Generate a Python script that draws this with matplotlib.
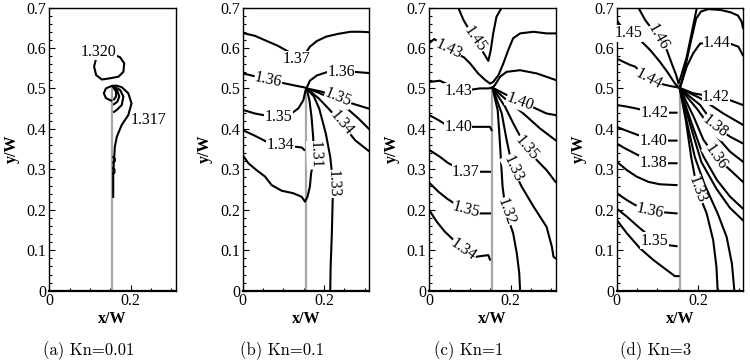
import matplotlib
matplotlib.use("Agg")
import matplotlib.pyplot as plt
from matplotlib.ticker import FixedLocator

# ---------------- data (x/W, y/W) ----------------
plate_x = 0.155
plate_top = 0.5

captions = ["(a) Kn=0.01", "(b) Kn=0.1", "(c) Kn=1", "(d) Kn=3"]

yticks = [0, 0.1, 0.2, 0.3, 0.4, 0.5, 0.6, 0.7]
ytick_labels = ["0", "0.1", "0.2", "0.3", "0.4", "0.5", "0.6", "0.7"]
xticks = [0, 0.2]
xtick_labels = ["0", "0.2"]

# Kn = 0.01
lines_a = [
    [(0.116, 0.578), (0.110, 0.554), (0.115, 0.533), (0.129, 0.522), (0.149, 0.525),
     (0.170, 0.529), (0.182, 0.541), (0.184, 0.562), (0.174, 0.577), (0.161, 0.582),
     (0.140, 0.585), (0.116, 0.578)],
    [(0.152, 0.470), (0.139, 0.476), (0.134, 0.488), (0.139, 0.500), (0.153, 0.506),
     (0.165, 0.507), (0.178, 0.503), (0.194, 0.488), (0.202, 0.463), (0.194, 0.434),
     (0.178, 0.410), (0.166, 0.381), (0.161, 0.356), (0.159, 0.323), (0.157, 0.290),
     (0.157, 0.257), (0.157, 0.232)],
    [(0.157, 0.506), (0.174, 0.496), (0.182, 0.480), (0.178, 0.459), (0.166, 0.447), (0.159, 0.442)],
    [(0.157, 0.505), (0.167, 0.494), (0.172, 0.480), (0.167, 0.467), (0.159, 0.461)],
    [(0.157, 0.503), (0.164, 0.492), (0.164, 0.480), (0.159, 0.473)],
    [(0.157, 0.330), (0.161, 0.327), (0.161, 0.320), (0.157, 0.317)],
    [(0.157, 0.303), (0.160, 0.300), (0.160, 0.292), (0.157, 0.289)],
]
labels_a = [("1.320", 0.122, 0.590, 0), ("1.317", 0.243, 0.422, 0)]

# Kn = 0.1
lines_b = [
    [(0.0, 0.637), (0.030, 0.630), (0.055, 0.619), (0.085, 0.606), (0.112, 0.591),
     (0.125, 0.580), (0.135, 0.572), (0.146, 0.574), (0.153, 0.585), (0.165, 0.603),
     (0.182, 0.617), (0.205, 0.628), (0.235, 0.635), (0.265, 0.640), (0.290, 0.640), (0.31, 0.639)],
    [(0.0, 0.537), (0.018, 0.533), (0.040, 0.527), (0.063, 0.521), (0.096, 0.514),
     (0.124, 0.508), (0.149, 0.503), (0.157, 0.501), (0.165, 0.519), (0.182, 0.532),
     (0.206, 0.540), (0.242, 0.541), (0.273, 0.541), (0.31, 0.538)],
    [(0.0, 0.447), (0.030, 0.438), (0.051, 0.434), (0.088, 0.430), (0.120, 0.438),
     (0.137, 0.451), (0.149, 0.471), (0.154, 0.494), (0.157, 0.501)],
    [(0.0, 0.397), (0.034, 0.381), (0.059, 0.368), (0.093, 0.360), (0.128, 0.356),
     (0.145, 0.354), (0.151, 0.348)],
    [(0.0, 0.335), (0.014, 0.315), (0.034, 0.298), (0.055, 0.282), (0.071, 0.261),
     (0.096, 0.247), (0.124, 0.241), (0.145, 0.232), (0.153, 0.220), (0.159, 0.232),
     (0.165, 0.257), (0.168, 0.290), (0.171, 0.306), (0.175, 0.335), (0.173, 0.381),
     (0.169, 0.430), (0.164, 0.470), (0.159, 0.492), (0.157, 0.500)],
    [(0.157, 0.500), (0.175, 0.480), (0.188, 0.450), (0.204, 0.389), (0.215, 0.331),
     (0.222, 0.264), (0.221, 0.224), (0.219, 0.142), (0.216, 0.059), (0.215, 0.0)],
    [(0.157, 0.500), (0.194, 0.492), (0.235, 0.478), (0.268, 0.463), (0.31, 0.450)],
    [(0.157, 0.500), (0.185, 0.490), (0.210, 0.479), (0.251, 0.455), (0.284, 0.426), (0.31, 0.400)],
    [(0.157, 0.500), (0.186, 0.476), (0.210, 0.451), (0.243, 0.414), (0.276, 0.372), (0.31, 0.345)],
]
labels_b = [("1.37", 0.133, 0.572, 0), ("1.36", 0.063, 0.521, -12), ("1.36", 0.242, 0.541, 0),
            ("1.35", 0.088, 0.430, 0), ("1.34", 0.093, 0.360, 0), ("1.31", 0.177, 0.335, -88),
            ("1.33", 0.222, 0.264, -88), ("1.35", 0.235, 0.478, -22), ("1.34", 0.243, 0.414, -50)]

# Kn = 1
lines_c = [
    [(0.071, 0.70), (0.084, 0.669), (0.112, 0.621), (0.129, 0.595), (0.139, 0.578),
     (0.145, 0.568), (0.151, 0.595), (0.157, 0.636), (0.165, 0.677), (0.178, 0.70)],
    [(0.0, 0.612), (0.012, 0.622), (0.025, 0.614), (0.047, 0.598), (0.068, 0.585),
     (0.085, 0.577), (0.100, 0.562), (0.120, 0.537), (0.137, 0.521), (0.149, 0.512),
     (0.157, 0.516), (0.170, 0.533), (0.182, 0.562), (0.194, 0.595), (0.206, 0.624),
     (0.223, 0.636), (0.256, 0.640), (0.288, 0.636), (0.31, 0.636)],
    [(0.0, 0.516), (0.026, 0.519), (0.045, 0.510), (0.071, 0.496), (0.104, 0.497),
     (0.124, 0.500), (0.145, 0.500), (0.155, 0.502), (0.161, 0.508), (0.174, 0.529),
     (0.190, 0.541), (0.223, 0.545), (0.264, 0.537), (0.31, 0.521)],
    [(0.155, 0.502), (0.182, 0.488), (0.223, 0.467), (0.260, 0.451), (0.288, 0.438), (0.31, 0.434)],
    [(0.0, 0.434), (0.022, 0.422), (0.038, 0.412), (0.071, 0.405), (0.100, 0.405),
     (0.133, 0.405), (0.149, 0.405), (0.153, 0.397)],
    [(0.155, 0.502), (0.190, 0.471), (0.231, 0.438), (0.272, 0.401), (0.31, 0.372)],
    [(0.155, 0.502), (0.186, 0.455), (0.206, 0.414), (0.239, 0.352), (0.264, 0.323),
     (0.288, 0.298), (0.31, 0.269)],
    [(0.155, 0.502), (0.178, 0.438), (0.190, 0.372), (0.205, 0.302), (0.227, 0.257),
     (0.256, 0.208), (0.288, 0.158), (0.301, 0.109), (0.305, 0.084), (0.31, 0.080)],
    [(0.155, 0.502), (0.168, 0.446), (0.172, 0.389), (0.176, 0.323), (0.180, 0.257),
     (0.188, 0.195), (0.206, 0.142), (0.215, 0.092), (0.221, 0.043), (0.223, 0.0)],
    [(0.0, 0.348), (0.026, 0.331), (0.047, 0.315), (0.090, 0.294), (0.124, 0.294), (0.149, 0.294)],
    [(0.0, 0.267), (0.022, 0.245), (0.043, 0.228), (0.070, 0.210), (0.090, 0.199),
     (0.124, 0.191), (0.149, 0.191)],
    [(0.0, 0.199), (0.018, 0.171), (0.038, 0.146), (0.060, 0.125), (0.084, 0.102),
     (0.116, 0.084), (0.145, 0.088), (0.149, 0.077)],
]
labels_c = [("1.45", 0.112, 0.621, -55), ("1.43", 0.047, 0.598, -25), ("1.43", 0.071, 0.494, 0),
            ("1.40", 0.223, 0.467, -20), ("1.40", 0.071, 0.405, 0), ("1.35", 0.239, 0.352, -50),
            ("1.33", 0.205, 0.302, -65), ("1.32", 0.188, 0.195, -70), ("1.37", 0.090, 0.294, 0),
            ("1.35", 0.090, 0.199, -15), ("1.34", 0.084, 0.102, -35)]

# Kn = 3
lines_d = [
    [(0.053, 0.70), (0.070, 0.669), (0.102, 0.626), (0.123, 0.595), (0.135, 0.562),
     (0.146, 0.533), (0.152, 0.512), (0.160, 0.537), (0.172, 0.578), (0.184, 0.636), (0.197, 0.70)],
    [(0.0, 0.669), (0.008, 0.657), (0.029, 0.636), (0.053, 0.624), (0.082, 0.595),
     (0.106, 0.566), (0.127, 0.537), (0.143, 0.512), (0.153, 0.502), (0.160, 0.516),
     (0.172, 0.554), (0.188, 0.587), (0.205, 0.611), (0.246, 0.612), (0.278, 0.611),
     (0.299, 0.603), (0.31, 0.582)],
    [(0.157, 0.505), (0.170, 0.560), (0.183, 0.620), (0.195, 0.672), (0.207, 0.690),
     (0.225, 0.696), (0.255, 0.694), (0.280, 0.688), (0.298, 0.680), (0.307, 0.665), (0.31, 0.650)],
    [(0.0, 0.574), (0.016, 0.566), (0.033, 0.558), (0.045, 0.554), (0.078, 0.524),
     (0.106, 0.512), (0.131, 0.506), (0.153, 0.502)],
    [(0.153, 0.502), (0.188, 0.488), (0.244, 0.478), (0.278, 0.471), (0.31, 0.459)],
    [(0.0, 0.459), (0.025, 0.455), (0.045, 0.451), (0.093, 0.440), (0.123, 0.440), (0.147, 0.440)],
    [(0.0, 0.405), (0.020, 0.397), (0.041, 0.389), (0.090, 0.371), (0.123, 0.371), (0.147, 0.371)],
    [(0.0, 0.364), (0.020, 0.352), (0.045, 0.339), (0.090, 0.316), (0.123, 0.315), (0.147, 0.315)],
    [(0.0, 0.319), (0.025, 0.298), (0.049, 0.282), (0.078, 0.269), (0.106, 0.263), (0.147, 0.261)],
    [(0.0, 0.241), (0.025, 0.224), (0.045, 0.212), (0.082, 0.198), (0.123, 0.193), (0.147, 0.191)],
    [(0.0, 0.203), (0.025, 0.183), (0.053, 0.158), (0.093, 0.124), (0.123, 0.113), (0.147, 0.110)],
    [(0.0, 0.175), (0.025, 0.142), (0.057, 0.105), (0.090, 0.076), (0.123, 0.051),
     (0.143, 0.036), (0.152, 0.036)],
    [(0.155, 0.500), (0.205, 0.476), (0.262, 0.438), (0.31, 0.410)],
    [(0.155, 0.500), (0.205, 0.459), (0.242, 0.407), (0.278, 0.381), (0.31, 0.364)],
    [(0.155, 0.500), (0.197, 0.450), (0.246, 0.381), (0.278, 0.344), (0.31, 0.319)],
    [(0.155, 0.500), (0.189, 0.430), (0.213, 0.373), (0.243, 0.331), (0.278, 0.299), (0.31, 0.269)],
    [(0.155, 0.500), (0.184, 0.414), (0.213, 0.332), (0.246, 0.274), (0.278, 0.233), (0.31, 0.203)],
    [(0.155, 0.500), (0.182, 0.405), (0.208, 0.318), (0.245, 0.252), (0.278, 0.205), (0.31, 0.174)],
    [(0.155, 0.500), (0.170, 0.420), (0.183, 0.330), (0.198, 0.249), (0.221, 0.191),
     (0.237, 0.125), (0.245, 0.059), (0.248, 0.0)],
    [(0.155, 0.500), (0.176, 0.400), (0.192, 0.330), (0.216, 0.262), (0.248, 0.191),
     (0.270, 0.133), (0.283, 0.067), (0.289, 0.0)],
]
labels_d = [("1.46", 0.102, 0.626, -60), ("1.45", 0.029, 0.636, 0), ("1.44", 0.246, 0.612, 0),
            ("1.44", 0.078, 0.524, -28), ("1.42", 0.244, 0.480, 0), ("1.42", 0.093, 0.440, 0),
            ("1.40", 0.090, 0.371, 0), ("1.38", 0.090, 0.316, 0), ("1.36", 0.082, 0.198, -12),
            ("1.35", 0.093, 0.124, 0), ("1.38", 0.242, 0.407, -38), ("1.36", 0.243, 0.331, -55),
            ("1.33", 0.198, 0.249, -70)]

panels = [(lines_a, labels_a), (lines_b, labels_b), (lines_c, labels_c), (lines_d, labels_d)]

# ---------------- figure ----------------
serif = "Liberation Serif"
fig = plt.figure(figsize=(7.5, 3.63), dpi=100)
lefts = [49.3, 242.7, 429.3, 616.7]
W, H = 750.0, 363.0
ax_w = 126.2 / W
ax_h = 283.2 / H
ax_b = (H - 290.7) / H

for i, (lines, labels) in enumerate(panels):
    ax = fig.add_axes([lefts[i] / W, ax_b, ax_w, ax_h])
    ax.set_xlim(0, 0.31)
    ax.set_ylim(0, 0.7)

    # plate
    ax.plot([plate_x, plate_x], [0, plate_top], color="#a8a8a8", lw=1.6, zorder=2)

    for ln in lines:
        xs = [p[0] for p in ln]
        ys = [p[1] for p in ln]
        ax.plot(xs, ys, color="black", lw=1.5, solid_joinstyle="round", zorder=3)

    for txt, lx, ly, rot in labels:
        ax.text(lx, ly, txt, fontsize=11.5, family=serif, rotation=rot,
                rotation_mode="anchor", ha="center", va="center", zorder=4,
                bbox=dict(fc="white", ec="none", pad=0.2))

    ax.set_xticks(xticks)
    ax.set_xticklabels(xtick_labels)
    ax.xaxis.set_minor_locator(FixedLocator([0.05, 0.1, 0.15, 0.25, 0.3]))
    ax.set_yticks(yticks)
    ax.set_yticklabels(ytick_labels)
    ax.yaxis.set_minor_locator(FixedLocator([k * 0.02 for k in range(36) if k % 5]))
    ax.tick_params(which="both", direction="in", top=False, right=False, width=0.8)
    ax.tick_params(which="major", length=4.3, pad=2)
    ax.tick_params(which="minor", length=2.4)
    for lab in ax.get_xticklabels() + ax.get_yticklabels():
        lab.set_family(serif)
        lab.set_fontsize(11.5)

    for s in ["left", "top", "right"]:
        ax.spines[s].set_linewidth(1.0)
    ax.spines["bottom"].set_linewidth(1.6)

    ax.set_xlabel("x/W", family=serif, fontweight="bold", fontsize=11.5, labelpad=1)
    ax.set_ylabel("y/W", family=serif, fontweight="bold", fontsize=11.5, labelpad=5)

    cx = (lefts[i] + ax_w * W / 2 - 24) / W
    fig.text(cx, (H - 351) / H, captions[i], family="cmr10", fontsize=12,
             ha="center", va="center")

fig.savefig("out.png", dpi=100)
